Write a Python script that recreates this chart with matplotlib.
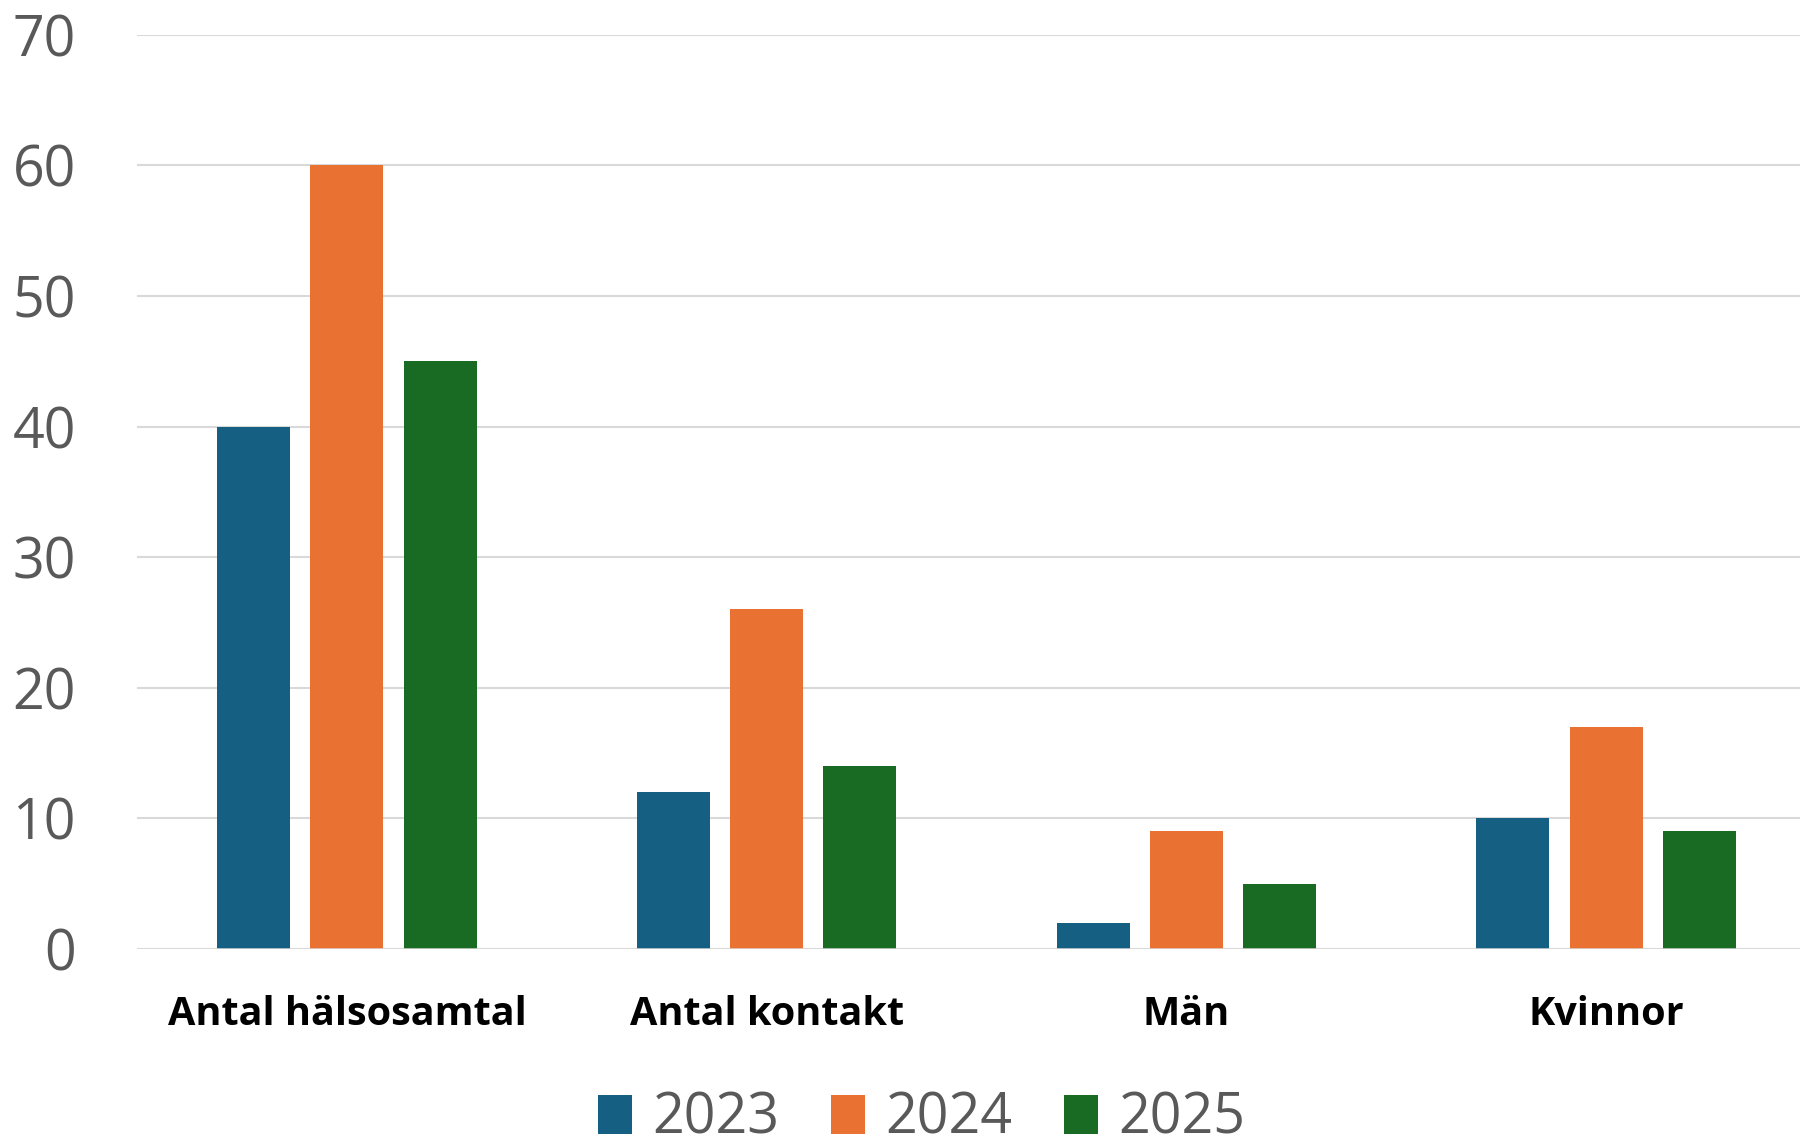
import matplotlib
matplotlib.use("Agg")
import matplotlib.pyplot as plt
import numpy as np
from matplotlib.patches import Patch

categories = ["Antal hälsosamtal", "Antal kontakt", "Män", "Kvinnor"]
years = ["2023", "2024", "2025"]
v2023 = [40, 12, 2, 10]
v2024 = [60, 26, 9, 17]
v2025 = [45, 14, 5, 9]
yticks = [0, 10, 20, 30, 40, 50, 60, 70]

colors = ["#156082", "#E97132", "#196B24"]
plt.rcParams['font.family'] = ['Open Sans', 'DejaVu Sans']

W, H = 1800, 1147
fig = plt.figure(figsize=(W / 100, H / 100), dpi=100)
left_px, right_px = 137, 1816
top_px, bottom_px = 34.7, 949
ax = fig.add_axes([left_px / W, 1 - bottom_px / H, (right_px - left_px) / W, (bottom_px - top_px) / H])

x = np.arange(len(categories))
bw = 0.174
off = 0.222
series = [v2023, v2024, v2025]
for i, (vals, c) in enumerate(zip(series, colors)):
    ax.bar(x + (i - 1) * off, vals, width=bw, color=c, zorder=3)

ax.set_xlim(-0.5, len(categories) - 0.5)
ax.set_ylim(0, 70)
ax.set_yticks(yticks)
ax.set_yticklabels([str(t) for t in yticks])
ax.yaxis.grid(True, color="#D9D9D9", linewidth=1.5, zorder=0)
ax.set_axisbelow(True)
for s in ax.spines.values():
    s.set_visible(False)
ax.axhline(0, color="#D9D9D9", linewidth=1.8, zorder=4)
ax.tick_params(axis='y', length=0, pad=44, labelsize=40, labelcolor="#595959")
ax.tick_params(axis='x', length=0, pad=33)
ax.set_xticks(x)
ax.set_xticklabels(categories, fontsize=28.5, fontweight='bold', color='black')

handles = [Patch(facecolor=c, edgecolor='none', label=y) for c, y in zip(colors, years)]
fig.legend(handles=handles, loc='center', bbox_to_anchor=(0.512, 0.024), ncol=3,
           frameon=False, fontsize=40, handlelength=0.62, handleheight=0.68,
           handletextpad=0.36, columnspacing=0.93, labelcolor="#595959",
           borderpad=0, borderaxespad=0)

fig.savefig("out.png", dpi=100)
